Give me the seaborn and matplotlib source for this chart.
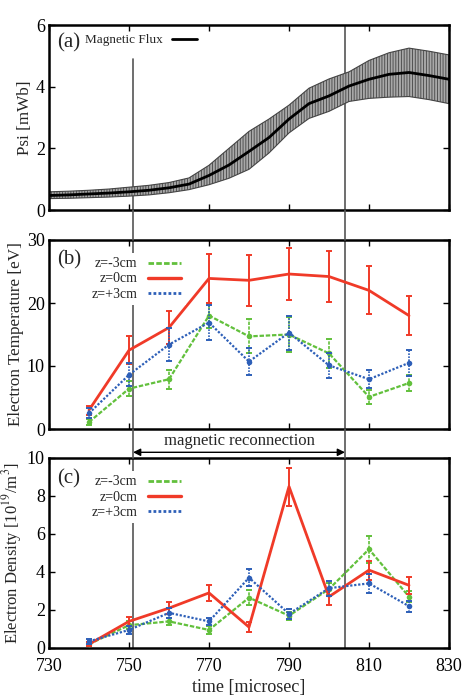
import numpy as np
import pandas as pd
import matplotlib
matplotlib.use('Agg')
import matplotlib.pyplot as plt
import seaborn as sns
from matplotlib.lines import Line2D

# ---------------- data ----------------
flux_t = [730, 735, 740, 745, 750, 755, 760, 765, 770, 775, 780,
          785, 790, 795, 800, 805, 810, 815, 820, 825, 830]
flux_mean = [0.47, 0.49, 0.52, 0.55, 0.59, 0.64, 0.72, 0.84, 1.12, 1.46, 1.90,
             2.35, 2.95, 3.45, 3.70, 4.02, 4.24, 4.40, 4.46, 4.36, 4.24]
flux_low = [0.37, 0.38, 0.40, 0.42, 0.45, 0.49, 0.56, 0.66, 0.82, 1.03, 1.32,
            1.85, 2.50, 2.97, 3.20, 3.52, 3.62, 3.66, 3.68, 3.58, 3.45]
flux_high = [0.59, 0.61, 0.64, 0.68, 0.74, 0.80, 0.89, 1.04, 1.45, 2.00, 2.55,
             2.95, 3.40, 3.95, 4.25, 4.48, 4.85, 5.10, 5.25, 5.15, 5.03]

t = [740, 750, 760, 770, 780, 790, 800, 810, 820]
series_labels = ["z=-3cm", "z=0cm", "z=+3cm"]

te_m3 = [1.1, 6.4, 7.9, 18.0, 14.7, 15.0, 12.0, 5.1, 7.3]
te_m3_err = [0.5, 1.2, 1.5, 2.0, 2.7, 2.7, 2.3, 1.1, 1.3]
te_0 = [3.0, 12.5, 16.1, 23.9, 23.6, 24.6, 24.2, 22.0, 18.0]
te_0_err = [0.7, 2.2, 2.6, 3.9, 4.0, 4.1, 4.1, 3.8, 3.1]
te_p3 = [2.5, 8.6, 13.4, 16.9, 10.7, 15.3, 10.1, 7.9, 10.5]
te_p3_err = [0.8, 1.8, 2.6, 2.8, 2.1, 2.7, 2.0, 1.4, 2.1]

ne_m3 = [0.2, 1.2, 1.4, 0.95, 2.65, 1.7, 3.1, 5.2, 2.7]
ne_m3_err = [0.1, 0.2, 0.2, 0.2, 0.4, 0.2, 0.3, 0.7, 0.3]
ne_0 = [0.2, 1.4, 2.1, 2.9, 1.1, 8.5, 2.7, 4.1, 3.3]
ne_0_err = [0.1, 0.25, 0.3, 0.4, 0.25, 1.0, 0.45, 0.5, 0.45]
ne_p3 = [0.35, 0.95, 1.85, 1.4, 3.7, 1.8, 3.15, 3.4, 2.2]
ne_p3_err = [0.15, 0.2, 0.25, 0.2, 0.45, 0.25, 0.4, 0.5, 0.3]

recon_start, recon_end = 751, 804
xticks = [730, 750, 770, 790, 810, 830]

# ---------------- style ----------------
sns.set_theme(style="ticks")
plt.rcParams['font.family'] = ['Liberation Serif', 'DejaVu Serif']
plt.rcParams['mathtext.fontset'] = 'stix'
plt.rcParams['hatch.linewidth'] = 0.6

RED = '#f03a28'
GREEN = '#62c03c'
BLUE = '#2d5fb8'
VLC = '#555555'

styles = {
    "z=-3cm": dict(color=GREEN, lw=1.6, ls=(0, (2, 0.8)), marker='o', ms=4),
    "z=0cm": dict(color=RED, lw=2.0, ls='-', marker=None, ms=0),
    "z=+3cm": dict(color=BLUE, lw=1.6, ls=(0, (1, 0.8)), marker='o', ms=4),
}

fig = plt.figure(figsize=(4.65, 6.99), dpi=100)
L, W = 49 / 465, 400 / 465
ax_a = fig.add_axes([L, 1 - 210 / 699, W, 185 / 699])
ax_b = fig.add_axes([L, 1 - 429 / 699, W, 189 / 699])
ax_c = fig.add_axes([L, 1 - 648 / 699, W, 190 / 699])


def style_axes(ax, ylim, yticks, ylabel, show_x, ylabel_size=12.3):
    ax.set_xlim(730, 830)
    ax.set_ylim(*ylim)
    ax.set_xticks(xticks)
    ax.set_yticks(yticks)
    ax.tick_params(direction='in', length=4, width=1.0, top=True, right=True,
                   labelsize=13, pad=3, colors='black')
    ax.tick_params(axis='x', pad=7)
    if not show_x:
        ax.tick_params(labelbottom=False)
    for s in ax.spines.values():
        s.set_linewidth(1.8)
        s.set_color('black')
    ax.set_ylabel(ylabel, fontsize=ylabel_size, labelpad=2)
    ax.set_xlabel('')
    ax.set_facecolor('white')


# ---------------- panel (a) ----------------
df_flux = pd.DataFrame({'time': flux_t, 'psi': flux_mean,
                        'low': flux_low, 'high': flux_high})
ax_a.fill_between(df_flux['time'], df_flux['low'], df_flux['high'],
                  facecolor='#a8a8a8', edgecolor='#444444', hatch='||||||',
                  linewidth=0.8, zorder=2)
sns.lineplot(data=df_flux, x='time', y='psi', ax=ax_a, color='black',
             lw=2.0, zorder=3, legend=False)
ax_a.axvline(recon_start, ymin=0, ymax=(210 - 59) / 185, color=VLC, lw=1.2, zorder=1)
ax_a.axvline(recon_end, color=VLC, lw=1.2, zorder=1)
style_axes(ax_a, (0, 6), [0, 2, 4, 6], 'Psi [mWb]', False)
ax_a.text(0.02, 0.905, '(a)', transform=ax_a.transAxes, fontsize=15,
          va='center', ha='left')
leg = ax_a.legend(handles=[Line2D([], [], color='black', lw=2)],
                  labels=['Magnetic Flux'], loc='upper left',
                  bbox_to_anchor=(0.068, 1.0), frameon=False, markerfirst=False,
                  fontsize=9.5, handlelength=1.9, handletextpad=0.7,
                  borderaxespad=0.3)


def panel(ax, vals, errs, ylim, yticks, ylabel, show_x, tag, tag_y, leg_y,
          ylabel_size=12.3):
    for lab, v, e in zip(series_labels, vals, errs):
        st = styles[lab]
        df = pd.DataFrame({'time': t, 'value': v})
        sns.lineplot(data=df, x='time', y='value', ax=ax, color=st['color'],
                     lw=st['lw'], linestyle=st['ls'], marker=st['marker'],
                     markersize=st['ms'], markeredgewidth=0, zorder=4,
                     legend=False)
        eb = ax.errorbar(t, v, yerr=e, fmt='none', ecolor=st['color'],
                         elinewidth=1.4 if lab == 'z=0cm' else 1.2,
                         capsize=2.5, capthick=1.4, zorder=4)
        if lab != 'z=0cm':
            eb[2][0].set_linestyle(st['ls'])
    ax.axvline(recon_start, color=VLC, lw=1.2, zorder=1)
    ax.axvline(recon_end, color=VLC, lw=1.2, zorder=1)
    style_axes(ax, ylim, yticks, ylabel, show_x, ylabel_size)
    ax.text(0.02, tag_y, tag, transform=ax.transAxes, fontsize=15,
            va='center', ha='left')
    handles = [Line2D([], [], color=styles[l]['color'], lw=styles[l]['lw'] + 0.4,
                      ls=styles[l]['ls']) for l in series_labels]
    lg = ax.legend(handles=handles, labels=series_labels, loc='upper left',
                   bbox_to_anchor=(0.095, leg_y), frameon=True, markerfirst=False,
                   fontsize=10, handlelength=2.4, handletextpad=0.8,
                   labelspacing=0.15, borderaxespad=0.0, borderpad=0.3,
                   fancybox=False)
    lg.get_frame().set_facecolor('white')
    lg.get_frame().set_edgecolor('none')
    lg.get_frame().set_alpha(1.0)
    lg.set_zorder(6)


panel(ax_b, [te_m3, te_0, te_p3], [te_m3_err, te_0_err, te_p3_err],
      (0, 30), [0, 10, 20, 30], 'Electron Temperature [eV]', False,
      '(b)', 0.894, 0.93)
panel(ax_c, [ne_m3, ne_0, ne_p3], [ne_m3_err, ne_0_err, ne_p3_err],
      (0, 10), [0, 2, 4, 6, 8, 10], 'Electron Density [10$^{19}$/m$^{3}$]', True,
      '(c)', 0.889, 0.93, ylabel_size=12)
ax_c.set_xlabel('time [microsec]', fontsize=13, labelpad=3)

# reconnection arrow and label
ax_c.annotate('', xy=(recon_start, 10.3), xytext=(recon_end, 10.3),
              xycoords='data', annotation_clip=False,
              arrowprops=dict(arrowstyle='<|-|>', color='black', lw=1.0,
                              mutation_scale=11, shrinkA=0, shrinkB=0))
ax_c.text((recon_start + recon_end) / 2, 10.9, 'magnetic reconnection',
          ha='center', va='center', fontsize=12, clip_on=False)

# vertical lines through gaps between panels
for xv in (recon_start, recon_end):
    xf = L + (xv - 730) / 100 * W
    for y0, y1 in ((210, 240), (429, 458)):
        fig.add_artist(Line2D([xf, xf], [1 - y0 / 699, 1 - y1 / 699],
                              transform=fig.transFigure, color=VLC, lw=1.2))

fig.align_ylabels([ax_a, ax_b, ax_c])
fig.savefig('out.png', dpi=100)
